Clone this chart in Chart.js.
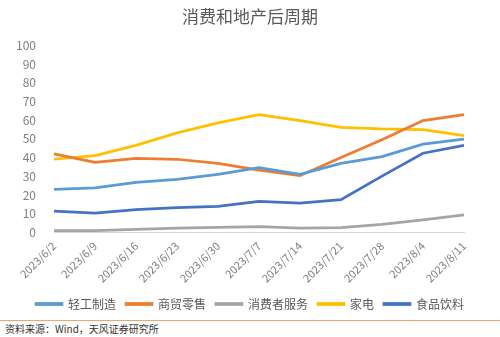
<!DOCTYPE html>
<html>
<head>
<meta charset="utf-8">
<script src="https://cdn.jsdelivr.net/npm/chart.js@4"></script>
<style>
  body { margin: 0; background: #fff; font-family: "Noto Sans CJK SC", "Noto Sans", sans-serif; }
  #wrap { position: relative; width: 500px; height: 320px; }
  #source { width: 500px; border-top: 1.5px solid #F2A46E; font-size: 10px; color: #333; padding: 0 0 0 5px; box-sizing: border-box; }
</style>
</head>
<body>
<div id="wrap"><canvas id="myChart"></canvas></div>
<div id="source">资料来源：Wind，天风证券研究所</div>
<script>
'use strict';

// weekly dates
const dates = ['2023/6/2', '2023/6/9', '2023/6/16', '2023/6/23', '2023/6/30', '2023/7/7',
  '2023/7/14', '2023/7/21', '2023/7/28', '2023/8/4', '2023/8/11'];

const lightIndustry = [23.0, 23.8, 26.7, 28.3, 31.0, 34.6, 31.0, 36.9, 40.5, 47.2, 49.9];
const retail = [42.0, 37.5, 39.6, 39.1, 36.9, 33.3, 30.3, 40.0, 49.5, 59.8, 63.0];
const consumerService = [0.9, 0.9, 1.6, 2.3, 2.7, 3.0, 2.3, 2.5, 4.3, 6.7, 9.4];
const appliances = [39.1, 41.0, 46.5, 53.2, 58.6, 63.0, 59.8, 56.2, 55.3, 55.0, 51.7];
const foodBeverage = [11.4, 10.3, 12.1, 13.2, 13.9, 16.6, 15.7, 17.5, 30.1, 42.3, 46.5];

const yTicks = [0, 10, 20, 30, 40, 50, 60, 70, 80, 90, 100];

const font = '"Noto Sans CJK SC", "Noto Sans", sans-serif';

function series(label, data, color) {
  return {
    label: label,
    data: data,
    borderColor: color,
    backgroundColor: color,
    borderWidth: 2.75,
    pointRadius: 0,
    tension: 0,
    fill: false
  };
}

const ctx = document.getElementById('myChart').getContext('2d');
const myChart = new Chart(ctx, {
  type: 'line',
  data: {
    labels: dates,
    datasets: [
      series('轻工制造', lightIndustry, '#5B9BD5'),
      series('商贸零售', retail, '#ED7D31'),
      series('消费者服务', consumerService, '#A5A5A5'),
      series('家电', appliances, '#FFC000'),
      series('食品饮料', foodBeverage, '#4472C4')
    ]
  },
  options: {
    responsive: true,
    maintainAspectRatio: false,
    animation: false,
    layout: { padding: { left: 0, right: 0, top: 0, bottom: 0 } },
    plugins: {
      title: {
        display: true,
        text: '消费和地产后周期',
        color: '#595959',
        font: { family: font, size: 17, weight: 'normal' },
        padding: { top: 6, bottom: 19 }
      },
      legend: {
        position: 'bottom',
        labels: {
          boxWidth: 26,
          boxHeight: 1,
          padding: 10,
          color: '#595959',
          font: { family: font, size: 12 }
        }
      },
      tooltip: { enabled: false }
    },
    scales: {
      x: {
        offset: false,
        grid: { display: false, drawTicks: true, tickLength: 4, color: '#D9D9D9' },
        border: { display: true, color: '#D9D9D9' },
        ticks: {
          minRotation: 45,
          maxRotation: 45,
          autoSkip: false,
          color: '#7F7F7F',
          font: { family: font, size: 11 },
          padding: 3
        }
      },
      y: {
        min: 0,
        max: 100,
        afterBuildTicks: function(axis) {
          axis.ticks = yTicks.map(function(v) { return { value: v }; });
        },
        afterFit: function(axis) { axis.width = 54; },
        grid: { display: false },
        border: { display: false },
        ticks: {
          autoSkip: false,
          color: '#7F7F7F',
          font: { family: font, size: 12 },
          padding: 10
        }
      },
      // empty right axis, only keeps room on the right side of the plot
      yRight: {
        position: 'right',
        display: true,
        afterFit: function(axis) { axis.width = 36; },
        grid: { display: false },
        border: { display: false },
        ticks: { display: false }
      }
    }
  }
});
</script>
</body>
</html>
